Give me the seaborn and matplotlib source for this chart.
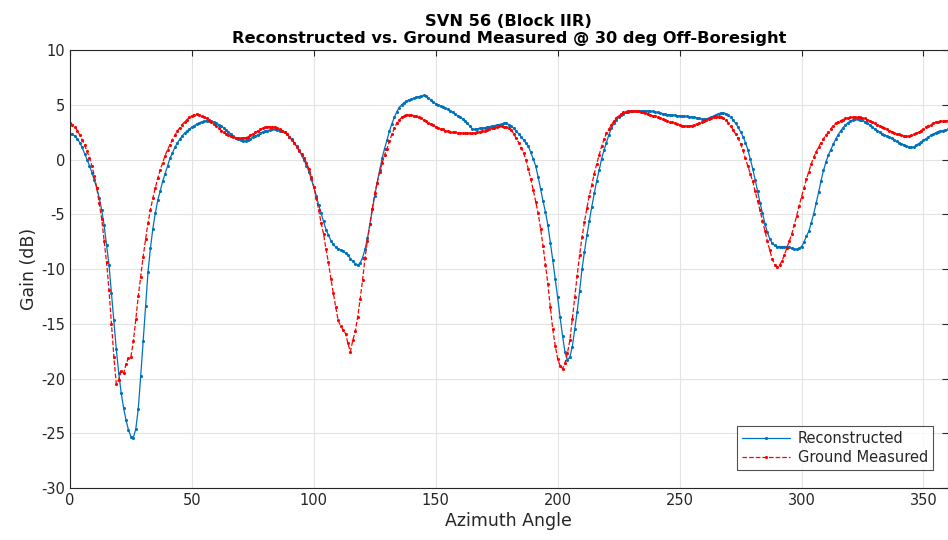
import numpy as np
import pandas as pd
import matplotlib
matplotlib.use("Agg")
import matplotlib.pyplot as plt
import seaborn as sns

# Azimuth angle in degrees, one sample per degree
azimuth = list(range(0, 361))

# Reconstructed gain pattern (dB)
reconstructed = [
    2.35, 2.3, 2.15, 1.9, 1.55, 1.1, 0.55, 0.0, -0.55, -1.2, -1.9,
    -2.6, -3.5, -4.6, -6.0, -7.8, -9.6, -12.2, -14.7, -17.3, -19.5,
    -21.3, -22.7, -23.8, -24.7, -25.3, -25.4, -24.6, -22.8, -19.8, -16.6,
    -13.4, -10.3, -8.1, -6.3, -4.9, -3.7, -2.9, -2.0, -1.3, -0.6,
    0.1, 0.6, 1.1, 1.5, 1.85, 2.15, 2.4, 2.6, 2.8, 2.95,
    3.1, 3.25, 3.35, 3.45, 3.5, 3.55, 3.55, 3.5, 3.4, 3.3,
    3.2, 3.05, 2.9, 2.7, 2.5, 2.35, 2.15, 2.0, 1.85, 1.75,
    1.7, 1.7, 1.8, 1.9, 2.05, 2.15, 2.25, 2.4, 2.5, 2.6,
    2.65, 2.7, 2.75, 2.75, 2.7, 2.65, 2.6, 2.5, 2.3, 2.1,
    1.85, 1.55, 1.2, 0.85, 0.4, -0.05, -0.55, -1.1, -1.8, -2.55,
    -3.3, -4.15, -4.9, -5.65, -6.4, -6.9, -7.4, -7.75, -8.0, -8.15,
    -8.25, -8.35, -8.55, -8.75, -9.05, -9.3, -9.5, -9.65, -9.45, -8.95,
    -8.2, -7.2, -5.9, -4.55, -3.3, -2.1, -1.0, 0.1, 1.0, 1.75,
    2.6, 3.25, 3.85, 4.35, 4.75, 5.0, 5.2, 5.35, 5.45, 5.5,
    5.6, 5.7, 5.75, 5.8, 5.85, 5.8, 5.65, 5.45, 5.25, 5.1,
    5.0, 4.9, 4.8, 4.7, 4.6, 4.45, 4.3, 4.15, 4.0, 3.85,
    3.7, 3.5, 3.3, 3.05, 2.8, 2.75, 2.8, 2.85, 2.85, 2.9,
    2.95, 3.0, 3.05, 3.1, 3.15, 3.2, 3.25, 3.3, 3.3, 3.2,
    3.05, 2.85, 2.6, 2.35, 2.1, 1.8, 1.5, 1.2, 0.65, 0.05,
    -0.6, -1.6, -2.7, -3.8, -4.8, -6.0, -7.6, -9.2, -10.9, -12.6,
    -14.4, -16.1, -17.6, -18.3, -18.05, -17.1, -15.5, -13.9, -12.0, -10.0,
    -8.4, -6.9, -5.6, -4.3, -3.1, -1.95, -1.0, 0.05, 0.85, 1.55,
    2.25, 2.85, 3.3, 3.65, 3.9, 4.05, 4.2, 4.3, 4.38, 4.42,
    4.45, 4.45, 4.45, 4.45, 4.45, 4.45, 4.45, 4.42, 4.4, 4.35,
    4.3, 4.25, 4.2, 4.15, 4.1, 4.1, 4.05, 4.05, 4.0, 4.0,
    4.0, 3.95, 3.95, 3.9, 3.9, 3.85, 3.8, 3.75, 3.7, 3.7,
    3.72, 3.78, 3.88, 3.98, 4.1, 4.2, 4.25, 4.25, 4.2, 4.05,
    3.85, 3.6, 3.3, 2.95, 2.55, 2.1, 1.55, 0.9, 0.05, -0.85,
    -1.85, -2.9, -3.95, -4.9, -5.85, -6.65, -7.25, -7.65, -7.85, -7.95,
    -7.95, -7.95, -7.95, -7.95, -8.0, -8.1, -8.15, -8.2, -8.1, -7.95,
    -7.55, -7.0, -6.55, -5.8, -4.95, -4.0, -3.0, -1.95, -1.0, -0.25,
    0.4, 0.9, 1.4, 1.85, 2.25, 2.6, 2.9, 3.15, 3.35, 3.5,
    3.6, 3.7, 3.7, 3.65, 3.6, 3.45, 3.3, 3.15, 3.0, 2.8,
    2.65, 2.5, 2.35, 2.25, 2.15, 2.05, 1.95, 1.8, 1.65, 1.55,
    1.45, 1.35, 1.25, 1.15, 1.1, 1.15, 1.3, 1.45, 1.6, 1.75,
    1.9, 2.05, 2.2, 2.3, 2.45, 2.55, 2.6, 2.65, 2.7, 2.75,
]

# Ground measured gain pattern (dB)
ground_measured = [
    3.35, 3.2, 3.0, 2.65, 2.25, 1.8, 1.3, 0.75, 0.15, -0.6, -1.5,
    -2.6, -4.0, -5.4, -7.4, -9.4, -11.9, -15.0, -18.0, -20.5, -20.1,
    -19.3, -19.5, -18.7, -18.1, -18.0, -16.6, -14.6, -12.5, -10.7, -8.9,
    -7.3, -5.8, -4.6, -3.5, -2.6, -1.7, -0.95, -0.3, 0.35, 0.9,
    1.35, 1.8, 2.2, 2.6, 2.9, 3.2, 3.45, 3.65, 3.85, 4.0,
    4.1, 4.15, 4.1, 4.0, 3.9, 3.75, 3.6, 3.45, 3.25, 3.05,
    2.85, 2.65, 2.5, 2.35, 2.25, 2.15, 2.05, 2.0, 1.95, 1.95,
    1.95, 2.0, 2.1, 2.2, 2.35, 2.5, 2.6, 2.75, 2.85, 2.95,
    3.0, 3.0, 3.0, 2.95, 2.85, 2.75, 2.65, 2.5, 2.3, 2.05,
    1.8, 1.5, 1.15, 0.8, 0.5, 0.15, -0.3, -0.85, -1.6, -2.5,
    -3.5, -4.6, -5.8, -6.8, -8.2, -9.4, -10.9, -12.2, -13.5, -14.7,
    -15.2, -15.55, -15.9, -16.8, -17.55, -16.5, -15.7, -14.35, -12.75, -11.0,
    -9.0, -7.4, -5.9, -4.5, -3.05, -2.1, -1.1, -0.35, 0.4, 1.0,
    1.65, 2.3, 2.85, 3.3, 3.6, 3.85, 4.0, 4.1, 4.1, 4.05,
    4.0, 3.95, 3.85, 3.75, 3.6, 3.5, 3.35, 3.25, 3.15, 3.0,
    2.9, 2.8, 2.75, 2.65, 2.6, 2.55, 2.5, 2.5, 2.45, 2.45,
    2.4, 2.4, 2.4, 2.4, 2.4, 2.45, 2.5, 2.55, 2.6, 2.65,
    2.7, 2.75, 2.85, 2.9, 3.0, 3.05, 3.05, 3.0, 2.95, 2.85,
    2.7, 2.35, 1.95, 1.55, 1.05, 0.6, 0.0, -0.9, -1.8, -2.8,
    -3.85, -4.9, -6.3, -7.9, -9.6, -11.4, -13.5, -15.5, -17.0, -18.2,
    -18.85, -19.1, -18.6, -17.7, -16.5, -14.6, -12.6, -10.6, -8.7, -7.1,
    -5.7, -4.4, -3.3, -2.3, -1.3, -0.4, 0.4, 1.2, 1.85, 2.4,
    2.75, 3.15, 3.5, 3.8, 4.0, 4.15, 4.3, 4.38, 4.45, 4.45,
    4.45, 4.42, 4.4, 4.35, 4.3, 4.25, 4.18, 4.1, 4.0, 3.95,
    3.88, 3.8, 3.7, 3.62, 3.55, 3.47, 3.4, 3.32, 3.25, 3.18,
    3.1, 3.05, 3.05, 3.07, 3.1, 3.17, 3.25, 3.35, 3.45, 3.53,
    3.62, 3.7, 3.78, 3.85, 3.9, 3.9, 3.87, 3.75, 3.6, 3.35,
    3.05, 2.7, 2.3, 1.95, 1.45, 0.85, 0.1, -0.6, -1.3, -2.0,
    -2.9, -3.8, -4.65, -5.6, -6.5, -7.45, -8.3, -9.1, -9.6, -9.8,
    -9.65, -9.25, -8.7, -8.05, -7.45, -6.8, -6.0, -5.15, -4.25, -3.4,
    -2.6, -1.8, -1.1, -0.4, 0.2, 0.7, 1.15, 1.55, 1.9, 2.2,
    2.5, 2.8, 3.1, 3.3, 3.45, 3.55, 3.65, 3.75, 3.8, 3.85,
    3.85, 3.85, 3.85, 3.85, 3.8, 3.75, 3.65, 3.55, 3.45, 3.3,
    3.2, 3.05, 2.95, 2.85, 2.75, 2.65, 2.55, 2.45, 2.35, 2.3,
    2.2, 2.15, 2.15, 2.15, 2.2, 2.3, 2.4, 2.5, 2.65, 2.8,
    2.95, 3.1, 3.2, 3.3, 3.4, 3.45, 3.5, 3.55, 3.55, 3.55,
]

x_ticks = [0, 50, 100, 150, 200, 250, 300, 350]
y_ticks = [-30, -25, -20, -15, -10, -5, 0, 5, 10]

sns.set_theme(style="white")
plt.rcParams["font.family"] = ["DejaVu Sans"]
plt.rcParams["axes.unicode_minus"] = False

fig = plt.figure(figsize=(9.48, 5.4), dpi=100)
ax = fig.add_axes([0.0738, 0.0963, 0.926, 0.811])

df_rec = pd.DataFrame({"az": azimuth, "gain": reconstructed})
df_gnd = pd.DataFrame({"az": azimuth, "gain": ground_measured})

sns.lineplot(data=df_rec, x="az", y="gain", ax=ax, color="#0072BD",
             linewidth=0.9, marker=".", markersize=4.5, markeredgewidth=0,
             label="Reconstructed")
sns.lineplot(data=df_gnd, x="az", y="gain", ax=ax, color="#FF0000",
             linewidth=0.9, linestyle="--", marker=".", markersize=4.5,
             markeredgewidth=0, label="Ground Measured")

ax.set_xlim(0, 360)
ax.set_ylim(-30, 10)
ax.set_xticks(x_ticks)
ax.set_yticks(y_ticks)
ax.grid(True, color="#e3e3e3", linewidth=0.8)
ax.set_axisbelow(True)

for side in ["left", "bottom", "top", "right"]:
    ax.spines[side].set_color("#262626")
    ax.spines[side].set_linewidth(0.8)

ax.tick_params(direction="in", length=4, width=0.8, colors="#262626",
               labelsize=10.5, top=True, right=True)
ax.set_xlabel("Azimuth Angle", fontsize=12.5, color="#262626", labelpad=3)
ax.set_ylabel("Gain (dB)", fontsize=12.5, color="#262626", labelpad=2)
ax.set_title("SVN 56 (Block IIR)\nReconstructed vs. Ground Measured @ 30 deg Off-Boresight",
             fontsize=11.7, fontweight="bold", color="black", pad=5, linespacing=1.15)

leg = ax.legend(loc="lower right", bbox_to_anchor=(0.983, 0.041), fontsize=10.5,
                frameon=True, fancybox=False, handlelength=3.3, borderpad=0.35,
                labelspacing=0.25, handletextpad=0.5, borderaxespad=0)
leg.get_frame().set_edgecolor("#262626")
leg.get_frame().set_linewidth(0.8)

fig.savefig("out.png", dpi=100)
